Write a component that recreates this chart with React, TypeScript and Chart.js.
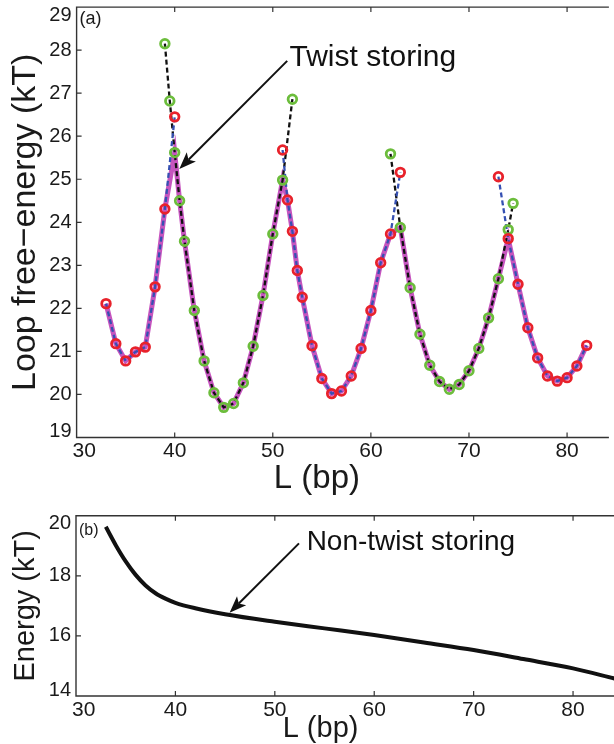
import { useEffect, useRef } from "react";
import { Chart, registerables } from "chart.js";

Chart.register(...registerables);

const FONT = "'Liberation Sans', Arial, sans-serif";

// ---------- Panel (a): loop free-energy ----------
const redL1 = [33, 34, 35, 36, 37, 38, 39, 40];
const redE1 = [22.11, 21.18, 20.78, 20.99, 21.1, 22.5, 24.31, 26.45];
const redL2 = [51, 51.5, 52, 52.5, 53, 54, 55, 56, 57, 58, 59, 60, 61, 62, 63];
const redE2 = [25.68, 24.52, 23.79, 22.88, 22.26, 21.13, 20.37, 20.02, 20.08, 20.43, 21.07, 21.95, 23.06, 23.73, 25.16];
const redL3 = [73, 74, 75, 76, 77, 78, 79, 80, 81, 82];
const redE3 = [25.06, 23.62, 22.56, 21.55, 20.85, 20.43, 20.31, 20.39, 20.66, 21.14];

const greenL1 = [39, 39.5, 40, 40.5, 41, 42, 43, 44, 45, 46, 47, 48, 49, 50, 51, 52];
const greenE1 = [28.15, 26.82, 25.62, 24.5, 23.56, 21.95, 20.78, 20.04, 19.7, 19.79, 20.27, 21.12, 22.3, 23.73, 24.98, 26.86];
const greenL2 = [62, 63, 64, 65, 66, 67, 68, 69, 70, 71, 72, 73, 74, 74.5];
const greenE2 = [25.59, 23.88, 22.48, 21.4, 20.68, 20.3, 20.12, 20.23, 20.55, 21.07, 21.78, 22.69, 23.83, 24.44];

const minL = [33, 34, 35, 36, 37, 38, 39, 40, 40.5, 41, 42, 43, 44, 45, 46, 47, 48, 49, 50, 51, 51.5, 52, 52.5, 53, 54, 55, 56, 57, 58, 59, 60, 61, 62, 63, 64, 65, 66, 67, 68, 69, 70, 71, 72, 73, 74, 75, 76, 77, 78, 79, 80, 81, 82];
const minE = [22.11, 21.18, 20.78, 20.99, 21.1, 22.5, 24.31, 25.62, 24.5, 23.56, 21.95, 20.78, 20.04, 19.7, 19.79, 20.27, 21.12, 22.3, 23.73, 24.98, 24.52, 23.79, 22.88, 22.26, 21.13, 20.37, 20.02, 20.08, 20.43, 21.07, 21.95, 23.06, 23.73, 23.88, 22.48, 21.4, 20.68, 20.3, 20.12, 20.23, 20.55, 21.07, 21.78, 22.69, 23.62, 22.56, 21.55, 20.85, 20.43, 20.31, 20.39, 20.66, 21.14];

// ---------- Panel (b): non-twist energy ----------
const bottomL = [33, 34, 35, 36, 37, 38, 39, 40, 42, 45, 50, 55, 60, 65, 70, 75, 80, 84.2];
const bottomE = [19.63, 19.02, 18.48, 18.03, 17.68, 17.42, 17.24, 17.1, 16.92, 16.72, 16.47, 16.25, 16.03, 15.78, 15.53, 15.23, 14.92, 14.58];

// ---------- ticks & labels ----------
const xTickValues = [30, 40, 50, 60, 70, 80];
const yTickValuesA = [19, 20, 21, 22, 23, 24, 25, 26, 27, 28, 29];
const yTickValuesB = [14, 16, 18, 20];

const noteA = { text: "Twist storing", tx: 51.7, ty: 27.63, fromX: 51.47, fromY: 27.75, toX: 40.47, toY: 25.24 };
const noteB = { text: "Non-twist storing", tx: 53.2, ty: 18.86, fromX: 52.43, fromY: 19.08, toX: 45.45, toY: 16.77 };

const RED = "#e8222b";
const GREEN = "#6cbd3c";
const BLUE = "#3550b2";
const MAGENTA = "#c655bf";

const pts = (xs: number[], ys: number[]) => xs.map((x, i) => ({ x, y: ys[i] }));

function drawArrow(ctx: CanvasRenderingContext2D, x0: number, y0: number, x1: number, y1: number) {
  const a = Math.atan2(y1 - y0, x1 - x0);
  const len = 17;
  const hw = 6.5;
  const c = Math.cos(a);
  const s = Math.sin(a);
  const bx = x1 - len * c;
  const by = y1 - len * s;
  ctx.beginPath();
  ctx.moveTo(x0, y0);
  ctx.lineTo(bx + 4 * c, by + 4 * s);
  ctx.lineWidth = 2;
  ctx.strokeStyle = "#111";
  ctx.stroke();
  ctx.beginPath();
  ctx.moveTo(x1, y1);
  ctx.lineTo(bx + hw * s, by - hw * c);
  ctx.lineTo(bx + 4 * c, by + 4 * s);
  ctx.lineTo(bx - hw * s, by + hw * c);
  ctx.closePath();
  ctx.fillStyle = "#111";
  ctx.fill();
}

type Decor = {
  xTicks: number[];
  yTicks: number[];
  xTitle: string;
  yTitle: string;
  xTitleAt: number;
  xTitleY: number;
  yTitleX: number;
  tickFontX: number;
  tickFontY: number;
  xTitleFont: number;
  yTitleFont: number;
  panel: string;
  panelFont: number;
  panelDx: number;
  panelDy: number;
  note: typeof noteA;
  noteFont: number;
};

function decorPlugin(d: Decor) {
  return {
    id: "decor",
    afterDraw(chart: any) {
      const ctx: CanvasRenderingContext2D = chart.ctx;
      const { left, right, top, bottom } = chart.chartArea;
      const xs = chart.scales.x;
      const ys = chart.scales.y;
      ctx.save();
      // frame
      ctx.strokeStyle = "#333";
      ctx.lineWidth = 1.4;
      ctx.beginPath();
      ctx.moveTo(right + 2, top);
      ctx.lineTo(left, top);
      ctx.lineTo(left, bottom);
      ctx.lineTo(right + 2, bottom);
      ctx.stroke();
      // inward ticks
      ctx.beginPath();
      ctx.lineWidth = 1.2;
      for (const v of d.xTicks) {
        const px = xs.getPixelForValue(v);
        if (px <= left + 1 || px >= right) continue;
        ctx.moveTo(px, bottom);
        ctx.lineTo(px, bottom - 5);
        ctx.moveTo(px, top);
        ctx.lineTo(px, top + 5);
      }
      for (const v of d.yTicks) {
        const py = ys.getPixelForValue(v);
        if (py <= top + 1 || py >= bottom - 1) continue;
        ctx.moveTo(left, py);
        ctx.lineTo(left + 5, py);
      }
      ctx.stroke();
      // tick labels
      ctx.fillStyle = "#1a1a1a";
      ctx.font = `${d.tickFontX}px ${FONT}`;
      ctx.textAlign = "center";
      ctx.textBaseline = "middle";
      for (const v of d.xTicks) {
        const label = String(v);
        const w = ctx.measureText(label).width;
        let px = xs.getPixelForValue(v);
        px = Math.max(px, left + w / 2 - 4);
        ctx.fillText(label, px, bottom + 14);
      }
      ctx.font = `${d.tickFontY}px ${FONT}`;
      ctx.textAlign = "right";
      for (const v of d.yTicks) {
        let py = ys.getPixelForValue(v);
        py = Math.min(Math.max(py, top + 8), bottom - 6);
        ctx.fillText(String(v), left - 5, py);
      }
      // axis titles
      ctx.textAlign = "center";
      ctx.font = `${d.xTitleFont}px ${FONT}`;
      ctx.fillText(d.xTitle, xs.getPixelForValue(d.xTitleAt), d.xTitleY);
      ctx.save();
      ctx.font = `${d.yTitleFont}px ${FONT}`;
      ctx.translate(d.yTitleX, (top + bottom) / 2);
      ctx.rotate(-Math.PI / 2);
      ctx.fillText(d.yTitle, 0, 0);
      ctx.restore();
      // panel label
      ctx.font = `${d.panelFont}px ${FONT}`;
      ctx.textAlign = "left";
      ctx.textBaseline = "top";
      ctx.fillText(d.panel, left + d.panelDx, top + d.panelDy);
      // annotation
      const n = d.note;
      drawArrow(ctx, xs.getPixelForValue(n.fromX), ys.getPixelForValue(n.fromY), xs.getPixelForValue(n.toX), ys.getPixelForValue(n.toY));
      ctx.font = `${d.noteFont}px ${FONT}`;
      ctx.textBaseline = "alphabetic";
      ctx.fillStyle = "#111";
      ctx.fillText(n.text, xs.getPixelForValue(n.tx), ys.getPixelForValue(n.ty));
      ctx.restore();
    },
  };
}

const lineDs = (xs: number[], ys: number[], color: string, width: number, dash: number[], order: number) => ({
  data: pts(xs, ys),
  showLine: true,
  borderColor: color,
  borderWidth: width,
  borderDash: dash,
  pointRadius: 0,
  tension: 0,
  order,
});

const markerDs = (xs: number[], ys: number[], color: string, order: number) => ({
  data: pts(xs, ys),
  showLine: false,
  pointRadius: 4.3,
  pointBorderWidth: 2.8,
  pointBorderColor: color,
  pointBackgroundColor: "rgba(0,0,0,0)",
  order,
});

const baseOptions = (padding: any, xmax: number, ymin: number, ymax: number) => ({
  responsive: false,
  animation: false as const,
  devicePixelRatio: 1,
  events: [] as any[],
  layout: { padding },
  scales: {
    x: { type: "linear" as const, display: false, min: 30, max: xmax },
    y: { type: "linear" as const, display: false, min: ymin, max: ymax },
  },
  plugins: { legend: { display: false }, tooltip: { enabled: false }, title: { display: false } },
});

export default function App() {
  const topRef = useRef<HTMLCanvasElement>(null);
  const botRef = useRef<HTMLCanvasElement>(null);

  useEffect(() => {
    const c1 = new Chart(topRef.current as HTMLCanvasElement, {
      type: "scatter",
      data: {
        datasets: [
          markerDs(redL1, redE1, RED, 0),
          markerDs(redL2, redE2, RED, 0),
          markerDs(redL3, redE3, RED, 0),
          markerDs(greenL1, greenE1, GREEN, 1),
          markerDs(greenL2, greenE2, GREEN, 1),
          lineDs(redL1, redE1, BLUE, 2.3, [5, 3], 3),
          lineDs(redL2, redE2, BLUE, 2.3, [5, 3], 3),
          lineDs(redL3, redE3, BLUE, 2.3, [5, 3], 3),
          lineDs(greenL1, greenE1, "#111", 2.3, [5, 3], 4),
          lineDs(greenL2, greenE2, "#111", 2.3, [5, 3], 4),
          lineDs(minL, minE, MAGENTA, 5, [], 10),
        ] as any,
      },
      options: baseOptions({ left: 76.6, top: 6, right: 0, bottom: 62.5 }, 84.06, 19, 29) as any,
      plugins: [
        decorPlugin({
          xTicks: xTickValues,
          yTicks: yTickValuesA,
          xTitle: "L (bp)",
          yTitle: "Loop free\u2212energy (kT)",
          xTitleAt: 54.5,
          xTitleY: 479,
          yTitleX: 26,
          tickFontX: 21,
          tickFontY: 20,
          xTitleFont: 33,
          yTitleFont: 34,
          panel: "(a)",
          panelFont: 18,
          panelDx: 3,
          panelDy: 3,
          note: noteA,
          noteFont: 30,
        }),
      ],
    });

    const c2 = new Chart(botRef.current as HTMLCanvasElement, {
      type: "scatter",
      data: {
        datasets: [
          {
            data: pts(bottomL, bottomE),
            showLine: true,
            borderColor: "#111",
            borderWidth: 4,
            pointRadius: 0,
            cubicInterpolationMode: "monotone",
          },
        ] as any,
      },
      options: baseOptions({ left: 76, top: 15.7, right: 0, bottom: 48 }, 84.12, 14, 20) as any,
      plugins: [
        decorPlugin({
          xTicks: xTickValues,
          yTicks: yTickValuesB,
          xTitle: "L (bp)",
          yTitle: "Energy (kT)",
          xTitleAt: 54.6,
          xTitleY: 229,
          yTitleX: 26,
          tickFontX: 21,
          tickFontY: 20,
          xTitleFont: 29,
          yTitleFont: 29,
          panel: "(b)",
          panelFont: 16,
          panelDx: 3,
          panelDy: 7,
          note: noteB,
          noteFont: 28,
        }),
      ],
    });

    return () => {
      c1.destroy();
      c2.destroy();
    };
  }, []);

  return (
    <div style={{ position: "absolute", left: 0, top: 0, width: 614, height: 744, background: "#fff", overflow: "hidden" }}>
      <canvas ref={topRef} width={614} height={500} style={{ position: "absolute", left: 0, top: 0, width: 614, height: 500 }} />
      <canvas ref={botRef} width={614} height={244} style={{ position: "absolute", left: 0, top: 500, width: 614, height: 244 }} />
    </div>
  );
}
